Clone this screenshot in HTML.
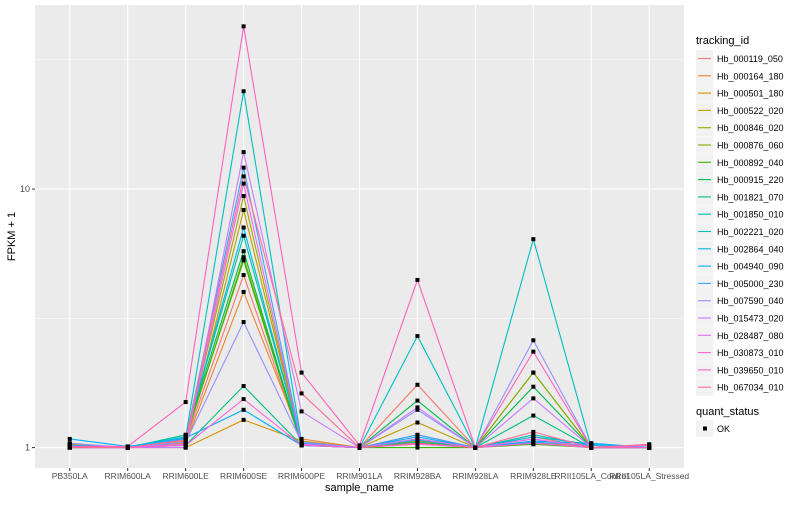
<!DOCTYPE html>
<html><head><meta charset="utf-8"><style>
body{margin:0;background:#fff;font-family:"Liberation Sans",sans-serif}
svg text{font-family:"Liberation Sans",sans-serif}
</style></head><body>
<svg id="chart" width="800" height="500"></svg>
<script>
const categories=["PB350LA","RRIM600LA","RRIM600LE","RRIM600SE","RRIM600PE","RRIM901LA","RRIM928BA","RRIM928LA","RRIM928LE","RRII105LA_Control","RRII105LA_Stressed"];
const seriesNames=["Hb_000119_050","Hb_000164_180","Hb_000501_180","Hb_000522_020","Hb_000846_020","Hb_000876_060","Hb_000892_040","Hb_000915_220","Hb_001821_070","Hb_001850_010","Hb_002221_020","Hb_002864_040","Hb_004940_090","Hb_005000_230","Hb_007590_040","Hb_015473_020","Hb_028487_080","Hb_030873_010","Hb_039650_010","Hb_067034_010"];
const colors=["#F8766D","#EA8331","#D89000","#C09B00","#A3A500","#7CAE00","#39B600","#00BB4E","#00BF7D","#00C1A3","#00BFC4","#00BAE0","#00B0F6","#35A2FF","#9590FF","#C77CFF","#E76BF3","#FA62DB","#FF62BC","#FF6C91"];
const s01=[1.02,1.0,1.06,4.65,1.03,1.0,1.75,1.0,1.1,1.0,1.0];
const s02=[1.01,1.0,1.04,4.0,1.08,1.0,1.12,1.0,1.08,1.0,1.0];
const s03=[1.0,1.0,1.0,1.28,1.06,1.0,1.06,1.0,1.05,1.0,1.0];
const s04=[1.02,1.0,1.02,8.3,1.03,1.0,1.25,1.0,1.04,1.0,1.0];
const s05=[1.03,1.0,1.05,9.4,1.02,1.0,1.05,1.0,1.95,1.0,1.0];
const s06=[1.02,1.0,1.08,5.45,1.03,1.0,1.05,1.0,1.95,1.0,1.0];
const s07=[1.01,1.0,1.1,5.3,1.02,1.0,1.0,1.0,1.03,1.0,1.0];
const s08=[1.01,1.0,1.12,5.75,1.02,1.0,1.52,1.0,1.72,1.0,1.0];
const s09=[1.01,1.0,1.02,1.73,1.02,1.0,1.05,1.0,1.33,1.0,1.0];
const s10=[1.0,1.0,1.12,6.6,1.04,1.0,1.08,1.0,1.12,1.02,1.0];
const s11=[1.0,1.0,1.1,23.9,1.05,1.0,2.7,1.0,6.4,1.0,1.0];
const s12=[1.02,1.0,1.1,7.1,1.03,1.0,1.07,1.0,1.1,1.03,1.0];
const s13=[1.08,1.01,1.09,1.40,1.02,1.0,1.1,1.0,1.06,1.04,1.0];
const s14=[1.02,1.0,1.08,12.1,1.04,1.0,1.12,1.0,1.05,1.02,1.0];
const s15=[1.04,1.0,1.05,3.06,1.05,1.0,1.40,1.0,2.6,1.0,1.0];
const s16=[1.0,1.0,1.0,13.9,1.38,1.0,1.43,1.0,1.55,1.0,1.0];
const s17=[1.01,1.0,1.03,10.5,1.03,1.0,1.08,1.0,1.08,1.0,1.0];
const s18=[1.0,1.0,1.02,1.54,1.02,1.0,1.03,1.0,1.04,1.0,1.02];
const s19=[1.01,1.01,1.5,42.6,1.95,1.02,4.45,1.0,2.35,1.0,1.0];
const s20=[1.0,1.0,1.07,11.2,1.62,1.0,1.04,1.0,1.15,1.0,1.03];
const seriesValues=[s01,s02,s03,s04,s05,s06,s07,s08,s09,s10,s11,s12,s13,s14,s15,s16,s17,s18,s19,s20];
const yTicks=[1,10];
const yTickLabels=["1","10"];

const NS="http://www.w3.org/2000/svg";
const svg=document.getElementById('chart');
const L=35,R=684,T=5,B=468;
const lmin=-0.079,lmax=1.712;
function xs(i){return L+(R-L)*(i+0.6)/(categories.length-1+1.2);}
function ys(v){return B-(Math.log10(v)-lmin)/(lmax-lmin)*(B-T);}
function mk(tag,attrs,parent){const e=document.createElementNS(NS,tag);for(const k in attrs)e.setAttribute(k,attrs[k]);(parent||svg).appendChild(e);return e;}

const bg=mk('rect',{x:L,y:T,width:R-L,height:B-T,fill:'#EBEBEB'});


// minor grid
for(let l=Math.ceil(lmin*2)/2;l<=lmax;l+=0.5){
  if(Math.abs(l-Math.round(l))<1e-6)continue;
  const y=ys(Math.pow(10,l));
  const g=mk('line',{x1:L,x2:R,y1:y,y2:y,stroke:'#fff','stroke-width':0.5});
  
  
}
yTicks.forEach((t,i)=>{
  const y=ys(t);
  const g=mk('line',{x1:L,x2:R,y1:y,y2:y,stroke:'#fff','stroke-width':1.1});
  
  
  const tk=mk('line',{x1:L-3,x2:L,y1:y,y2:y,stroke:'#333'});
  
  
  const tx=mk('text',{x:L-5,y:y+3,'text-anchor':'end','font-size':9,fill:'#4D4D4D'});
  tx.textContent=yTickLabels[i];
  
  
});
categories.forEach((c,i)=>{
  const x=xs(i);
  const g=mk('line',{x1:x,x2:x,y1:T,y2:B,stroke:'#fff','stroke-width':1.1});
  
  
  const tk=mk('line',{x1:x,x2:x,y1:B,y2:B+3,stroke:'#333'});
  
  
  const tx=mk('text',{x:x,y:B+11,'text-anchor':'middle','font-size':8.5,fill:'#4D4D4D'});
  tx.textContent=c;
  
  
});
seriesValues.forEach((vals,si)=>{
  const p=mk('polyline',{points:vals.map((v,i)=>xs(i)+','+ys(v)).join(' '),fill:'none',stroke:colors[si],'stroke-width':1.1});
  
  
});
seriesValues.forEach((vals,si)=>{
  vals.forEach((v,i)=>{
    const r=mk('rect',{x:xs(i)-2,y:ys(v)-2,width:4,height:4,fill:'#000'});
    
    
  });
});
const xt=mk('text',{x:(L+R)/2,y:491,'text-anchor':'middle','font-size':11,fill:'#000'});
xt.textContent='sample_name';


const yt=mk('text',{x:0,y:0,'text-anchor':'middle','font-size':11,fill:'#000',transform:'translate(15,'+((T+B)/2)+') rotate(-90)'});
yt.textContent='FPKM + 1';


// legend
const lt=mk('text',{x:696,y:44,'font-size':11,fill:'#000'});
lt.textContent='tracking_id';


seriesNames.forEach((n,i)=>{
  const y=50+i*17.3;
  const g=mk('g',{});
  
  
  mk('rect',{x:696,y:y,width:17,height:17,fill:'#F2F2F2'},g);
  mk('line',{x1:698,x2:711,y1:y+8.5,y2:y+8.5,stroke:colors[i],'stroke-width':1.1},g);
  const t=mk('text',{x:717,y:y+12,'font-size':9,fill:'#000'},g);
  t.textContent=n;
});
const qt=mk('text',{x:696,y:415,'font-size':11,fill:'#000'});
qt.textContent='quant_status';


const qg=mk('g',{});


mk('rect',{x:696,y:420,width:17,height:17,fill:'#F2F2F2'},qg);
mk('rect',{x:703,y:426.5,width:4,height:4,fill:'#000'},qg);
const ok=mk('text',{x:717,y:432,'font-size':9,fill:'#000'},qg);
ok.textContent='OK';
</script>
</body></html>
